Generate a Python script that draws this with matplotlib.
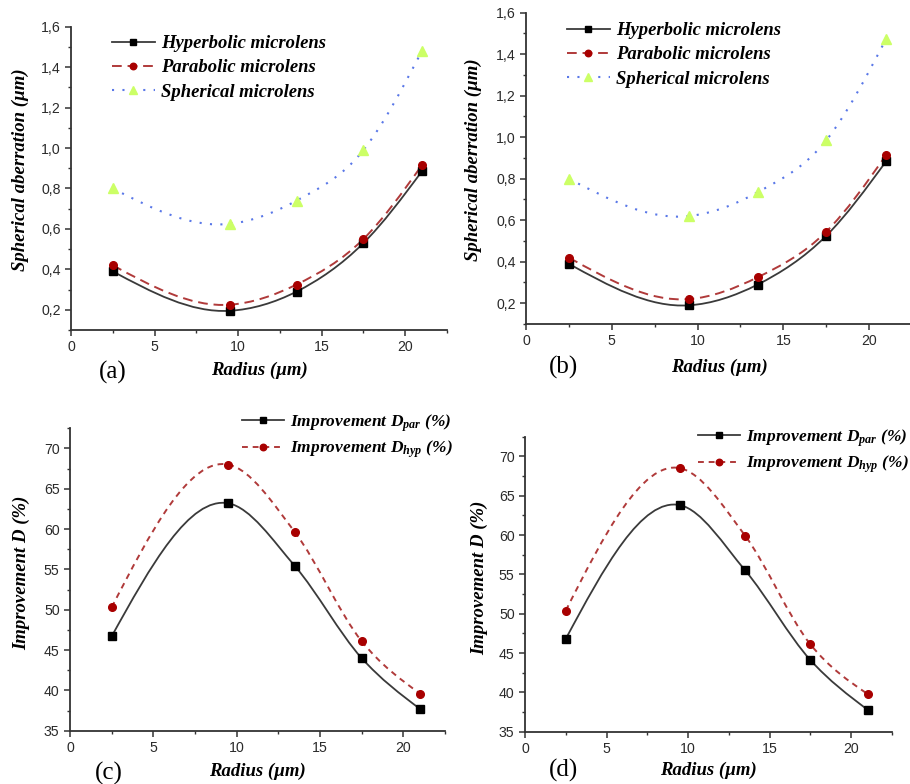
import numpy as np
import matplotlib
matplotlib.use("Agg")
import matplotlib.pyplot as plt
from matplotlib.path import Path
from matplotlib.patches import PathPatch
from matplotlib.lines import Line2D
from matplotlib.ticker import MultipleLocator, FuncFormatter

# ---- data ----
radius = [2.5, 9.5, 13.5, 17.5, 21.0]

hyp_a = [0.39, 0.195, 0.29, 0.53, 0.885]
par_a = [0.42, 0.225, 0.325, 0.55, 0.915]
sph_a = [0.80, 0.625, 0.74, 0.99, 1.48]

hyp_b = [0.39, 0.19, 0.29, 0.525, 0.885]
par_b = [0.42, 0.22, 0.325, 0.545, 0.915]
sph_b = [0.80, 0.62, 0.735, 0.985, 1.475]

dpar_c = [46.7, 63.2, 55.4, 44.0, 37.7]
dhyp_c = [50.3, 68.0, 59.6, 46.1, 39.6]

dpar_d = [46.8, 63.8, 55.5, 44.1, 37.8]
dhyp_d = [50.4, 68.5, 59.9, 46.1, 39.8]

W, H = 910, 784
SERIF = "Liberation Serif"
SANS = "Liberation Sans"

plt.rcParams["mathtext.fontset"] = "custom"
plt.rcParams["mathtext.it"] = "Liberation Serif:italic:bold"
plt.rcParams["mathtext.rm"] = "Liberation Serif:italic:bold"
plt.rcParams["mathtext.bf"] = "Liberation Serif:italic:bold"

C_HYP = "#3a3a3a"
C_PAR_LINE = "#b03a3a"
C_PAR_MK = "#a80000"
C_SPH_LINE = "#5a78e8"
C_SPH_MK = "#ccff66"


def smooth_path(x, y):
    # smooth curve through the points: cubic hermite segments drawn as beziers
    x = np.asarray(x, float)
    y = np.asarray(y, float)
    h = np.diff(x)
    d = np.diff(y) / h
    n = len(x)
    m = np.zeros(n)
    for i in range(1, n - 1):
        m[i] = (h[i - 1] * d[i] + h[i] * d[i - 1]) / (h[i - 1] + h[i])
    m[0] = (3 * d[0] - m[1]) / 2
    m[-1] = (3 * d[-1] - m[-2]) / 2
    verts = [(x[0], y[0])]
    codes = [Path.MOVETO]
    for i in range(n - 1):
        c1 = (x[i] + h[i] / 3, y[i] + m[i] * h[i] / 3)
        c2 = (x[i + 1] - h[i] / 3, y[i + 1] - m[i + 1] * h[i] / 3)
        verts += [c1, c2, (x[i + 1], y[i + 1])]
        codes += [Path.CURVE4] * 3
    return Path(verts, codes)


def series(ax, x, y, lc, ls, lw, marker, mfc, ms):
    ax.add_patch(PathPatch(smooth_path(x, y), fill=False, edgecolor=lc,
                           lw=lw, linestyle=ls, zorder=2))
    ax.plot(x, y, linestyle="none", marker=marker, mfc=mfc, mec=mfc,
            ms=ms, zorder=3)
    return Line2D([], [], color=lc, ls=ls, lw=lw, marker=marker,
                  mfc=mfc, mec=mfc, ms=ms * 0.85)


def style_axes(ax, ylim, ymaj, ymin, comma):
    ax.set_xlim(0, 22.5)
    ax.set_ylim(*ylim)
    for s in ["top", "right"]:
        ax.spines[s].set_visible(False)
    for s in ["left", "bottom"]:
        ax.spines[s].set_color("#333333")
        ax.spines[s].set_linewidth(1.3)
    ax.xaxis.set_major_locator(MultipleLocator(5))
    ax.xaxis.set_minor_locator(MultipleLocator(2.5))
    ax.yaxis.set_major_locator(MultipleLocator(ymaj))
    ax.yaxis.set_minor_locator(MultipleLocator(ymin))
    if comma:
        ax.yaxis.set_major_formatter(FuncFormatter(lambda v, p: f"{v:.1f}".replace(".", ",")))
    ax.tick_params(which="major", direction="out", length=4.5, width=1.1,
                   color="#333333", labelsize=10.2, labelcolor="#2a2a2a", pad=3)
    ax.tick_params(which="minor", direction="out", length=2.5, width=1.0,
                   color="#333333")
    for lab in ax.get_xticklabels() + ax.get_yticklabels():
        lab.set_fontfamily(SANS)


def box(l, t, r, b):
    return [l / W, 1 - b / H, (r - l) / W, (b - t) / H]


def ftext(x, y, s, **kw):
    fig.text(x / W, 1 - y / H, s, ha="center", va="center", **kw)


fig = plt.figure(figsize=(W / 100, H / 100), dpi=100)

lab_kw = dict(fontfamily=SERIF, fontweight="bold", fontstyle="italic", fontsize=13.5)
leg_font = {"family": SERIF, "weight": "bold", "style": "italic", "size": 13.4}
leg_font_d = {"family": SERIF, "weight": "bold", "style": "italic", "size": 12.5}

# ---- (a) and (b): spherical aberration ----
panels_top = [
    (box(71, 26.7, 447, 330), hyp_a, par_a, sph_a, (112, 35)),
    (box(526, 12.7, 912, 324), hyp_b, par_b, sph_b, (567, 22)),
]
for rect, hy, pa, sp, (lx, ly) in panels_top:
    ax = fig.add_axes(rect)
    h1 = series(ax, radius, hy, C_HYP, "-", 1.3, "s", "black", 5.5)
    h2 = series(ax, radius, pa, C_PAR_LINE, (0, (5, 3)), 1.4, "o", C_PAR_MK, 5.5)
    h3 = series(ax, radius, sp, C_SPH_LINE, (0, (1, 4)), 1.5, "^", C_SPH_MK, 6.5)
    style_axes(ax, (0.1, 1.6), 0.2, 0.1, True)
    ax.legend([h1, h2, h3], ["Hyperbolic microlens", "Parabolic microlens",
                             "Spherical microlens"],
              loc="upper left", bbox_to_anchor=(lx / W, 1 - ly / H),
              bbox_transform=fig.transFigure, frameon=False, prop=leg_font,
              borderpad=0, borderaxespad=0, handlelength=2.3,
              handletextpad=0.35, labelspacing=0.4)

# ---- (c) and (d): improvement D ----
panels_bot = [
    (box(70, 428.3, 445, 730.7), dpar_c, dhyp_c, (242, 412)),
    (box(525, 436.7, 892, 731.7), dpar_d, dhyp_d, (698, 427)),
]
for rect, dp, dh, (lx, ly) in panels_bot:
    ax = fig.add_axes(rect)
    h1 = series(ax, radius, dp, C_HYP, "-", 1.3, "s", "black", 5.5)
    h2 = series(ax, radius, dh, C_PAR_LINE, (0, (3, 2.5)), 1.4, "o", C_PAR_MK, 5.5)
    style_axes(ax, (35, 72.5), 5, 2.5, False)
    ax.legend([h1, h2], ["Improvement D$_{par}$ (%)", "Improvement D$_{hyp}$ (%)"],
              loc="upper left", bbox_to_anchor=(lx / W, 1 - ly / H),
              bbox_transform=fig.transFigure, frameon=False, prop=leg_font_d,
              borderpad=0, borderaxespad=0, handlelength=2.4,
              handletextpad=0.35, labelspacing=0.3)

# ---- axis labels and panel letters ----
ftext(259, 370, "Radius (µm)", **lab_kw)
ftext(719, 367, "Radius (µm)", **lab_kw)
ftext(257, 771, "Radius (µm)", **lab_kw)
ftext(708, 770, "Radius (µm)", **lab_kw)

ftext(20, 170, "Spherical aberration (µm)", rotation=90, **lab_kw)
ftext(473, 160, "Spherical aberration (µm)", rotation=90, **lab_kw)
ftext(22, 573, "Improvement D (%)", rotation=90, **lab_kw)
ftext(480, 578, "Improvement D (%)", rotation=90, **lab_kw)

panel_kw = dict(fontfamily=SERIF, fontsize=18)
ftext(113, 372, "(a)", **panel_kw)
ftext(563, 367, "(b)", **panel_kw)
ftext(109, 773, "(c)", **panel_kw)
ftext(563, 770, "(d)", **panel_kw)

fig.savefig("out.png", dpi=100)
